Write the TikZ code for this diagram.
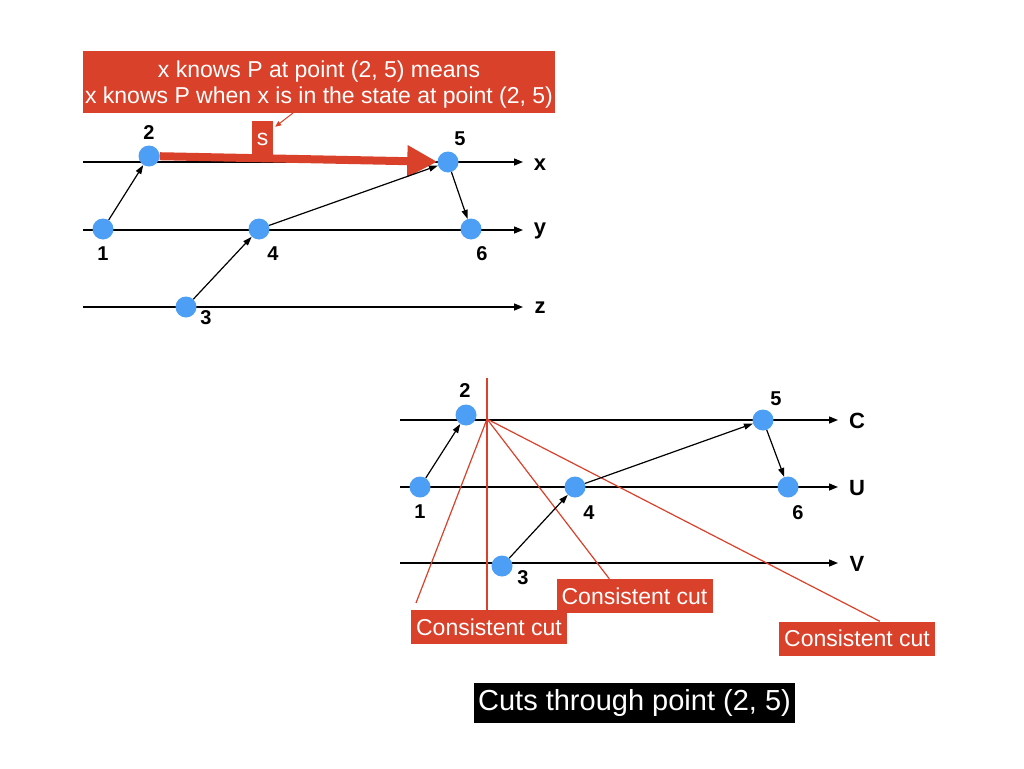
\documentclass[tikz,border=0pt]{standalone}
\usepackage{fontspec}
\setmainfont{Liberation Sans}
\usetikzlibrary{arrows.meta}
\definecolor{keyred}{RGB}{217,65,42}
\definecolor{keyblue}{RGB}{77,158,245}

\begin{document}
\begin{tikzpicture}[x=1pt, y=-1pt,
    dot/.style={circle, fill=keyblue, minimum size=21pt, inner sep=0pt},
    num/.style={font=\fontsize{20}{20}\selectfont\bfseries},
    lane/.style={font=\fontsize{22}{22}\selectfont\bfseries},
    axis/.style={line width=1.4pt, -{Triangle[length=9pt,width=7pt]}},
    msg/.style={line width=1.2pt, -{Triangle[length=9pt,width=6pt]}},
    redbox/.style={fill=keyred, text=white, inner sep=0pt},
    cutbox/.style={redbox, minimum width=156pt, minimum height=34pt, font=\fontsize{23}{23}\selectfont},
    cut/.style={keyred, line width=1.2pt}]
                                \path[fill=white] (0,0) rectangle (1024,768);

                                \coordinate (xs) at (83,162);  \coordinate (xe) at (523,162);
                                \coordinate (ys) at (83,230);  \coordinate (ye) at (523,230);
                                \coordinate (zs) at (83,307);  \coordinate (ze) at (523,307);
                                \draw[axis] (xs) -- (xe);
                                \draw[axis] (ys) -- (ye);
                                \draw[axis] (zs) -- (ze);
                                \node (xl) at (540,165) [lane] {x};
                                \node (yl) at (540,231) [lane] {y};
                                \node (zl) at (540,308) [lane] {z};

                                \node (info) at (319,82) [redbox, minimum width=472pt, minimum height=61pt, align=center, text depth=0pt, font=\fontsize{23}{26}\selectfont] {x knows P at point (2, 5) means\\x knows P when x is in the state at point (2, 5)};
                                \node (sbox) at (262.5,139) [redbox, minimum width=21pt, minimum height=36pt, font=\fontsize{23}{23}\selectfont] {s};

                                \node (a1) at (103,229) [dot] {};
                                \node (a2) at (149,156) [dot] {};
                                \node (a3) at (186,307) [dot] {};
                                \node (a4) at (259,229) [dot] {};
                                \node (a5) at (448,162) [dot] {};
                                \node (a6) at (471,229) [dot] {};
                                \node (la1) at (103,254) [num] {1};
                                \node (la2) at (149,133) [num] {2};
                                \node (la3) at (206,318) [num] {3};
                                \node (la4) at (273,254) [num] {4};
                                \node (la5) at (460,139) [num] {5};
                                \node (la6) at (482,254) [num] {6};

                                \draw[keyred, line width=8pt, -{Triangle[length=30pt,width=30pt]}] (a2) -- (a5);
                                \coordinate (sp) at (293,113);
                                \draw[keyred, line width=1pt, -{Triangle[length=6pt,width=5pt]}] (sp) -- ([xshift=2pt,yshift=-6pt]sbox.north east);
                                \draw[msg] (a1) -- (a2);
                                \draw[msg] (a3) -- (a4);
                                \draw[msg] (a4) -- (a5);
                                \draw[msg] (a5) -- (a6);

                                \coordinate (cs) at (400,420);  \coordinate (ce) at (838,420);
                                \coordinate (us) at (400,487);  \coordinate (ue) at (838,487);
                                \coordinate (vs) at (400,563);  \coordinate (ve) at (838,563);
                                \draw[axis] (cs) -- (ce);
                                \draw[axis] (us) -- (ue);
                                \draw[axis] (vs) -- (ve);
                                \node (cl) at (857,421) [lane] {C};
                                \node (ul) at (857,488) [lane] {U};
                                \node (vl) at (857,564) [lane] {V};

                                \node (c1) at (489,627) [cutbox] {Consistent cut};
                                \node (c2) at (634.5,596) [cutbox] {Consistent cut};
                                \node (c3) at (857,638.5) [cutbox] {Consistent cut};
                                \coordinate (cp) at (487,419);
                                \coordinate (ctop) at (487,378);
                                \coordinate (cend) at (416,603);
                                \draw[cut] (ctop) -- (c1.north -| ctop);
                                \draw[cut] (cp) -- (cend);
                                \draw[cut] (cp) -- ([xshift=53pt]c2.north west);
                                \draw[cut] (cp) -- ([xshift=101pt]c3.north west);

                                \node (b1) at (420,487) [dot] {};
                                \node (b2) at (466,415) [dot] {};
                                \node (b3) at (502,566) [dot] {};
                                \node (b4) at (575,487) [dot] {};
                                \node (b5) at (763,420) [dot] {};
                                \node (b6) at (788,487) [dot] {};
                                \node (lb1) at (420,512) [num] {1};
                                \node (lb2) at (465,391) [num] {2};
                                \node (lb3) at (523,578) [num] {3};
                                \node (lb4) at (589,513) [num] {4};
                                \node (lb5) at (776,399) [num] {5};
                                \node (lb6) at (798,513) [num] {6};

                                \draw[msg] (b1) -- (b2);
                                \draw[msg] (b3) -- (b4);
                                \draw[msg] (b4) -- (b5);
                                \draw[msg] (b5) -- (b6);

                                \node (title) at (634.5,703) [fill=black, text=white, inner sep=0pt, minimum width=321pt, minimum height=40pt, font=\fontsize{29}{29}\selectfont] {Cuts through point (2, 5)};
                            \end{tikzpicture}
\end{document}
